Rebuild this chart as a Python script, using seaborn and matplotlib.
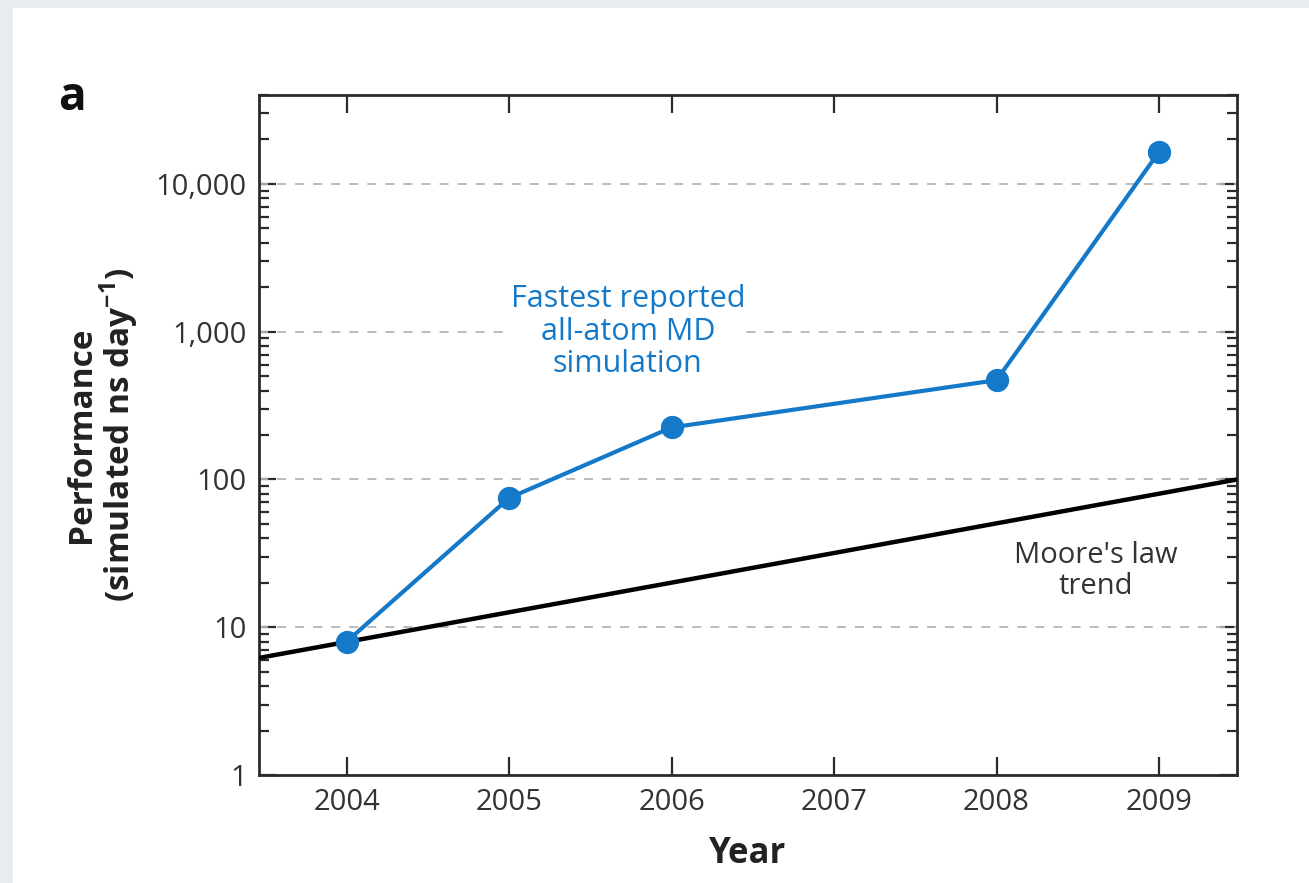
import matplotlib
matplotlib.use('Agg')
import matplotlib.pyplot as plt
import matplotlib.patches as mpatches
import matplotlib.ticker as mticker
import numpy as np
import pandas as pd
import seaborn as sns

# Data
years = [2004, 2005, 2006, 2008, 2009]
fastest_md = [8.0, 75, 225, 470, 16500]      # simulated ns/day
moore_years = [2003.46, 2009.48]
moore_trend = [6.2, 100]

y_ticks = [1, 10, 100, 1000, 10000]
y_tick_labels = ['1', '10', '100', '1,000', '10,000']
x_ticks = [2004, 2005, 2006, 2007, 2008, 2009]

BLUE = '#1479c9'
DARK = '#2b2b2b'

sns.set_style('ticks')
plt.rcParams['font.family'] = ['Open Sans', 'DejaVu Sans']
plt.rcParams['mathtext.fontset'] = 'custom'
plt.rcParams['mathtext.bf'] = 'Open Sans:bold'
plt.rcParams['mathtext.rm'] = 'Open Sans'

fig = plt.figure(figsize=(13.09, 8.83), dpi=100)
fig.patch.set_facecolor('#e8ebef')
# white slide panel (behind the axes)
fig.patches.append(mpatches.Rectangle((13 / 1309, 0), 1, 1 - 8 / 883, transform=fig.transFigure,
                                      facecolor='white', edgecolor='none', zorder=-5))

ax = fig.add_axes([259 / 1309, 1 - 775 / 883, (1237 - 259) / 1309, (775 - 95) / 883])
ax.set_facecolor('white')

df_md = pd.DataFrame({'year': years, 'perf': fastest_md})
df_moore = pd.DataFrame({'year': moore_years, 'perf': moore_trend})

sns.lineplot(data=df_moore, x='year', y='perf', color='black', linewidth=3.2, ax=ax, zorder=3)
sns.lineplot(data=df_md, x='year', y='perf', color=BLUE, linewidth=3.0, marker='o',
             markersize=16, markeredgecolor=BLUE, ax=ax, zorder=4)

ax.set_yscale('log')
ax.set_ylim(1, 40000)
ax.set_xlim(2003.46, 2009.48)

ax.set_yticks(y_ticks)
ax.set_yticklabels(y_tick_labels)
ax.yaxis.set_minor_locator(mticker.LogLocator(base=10, subs=np.arange(2, 10)))
ax.yaxis.set_minor_formatter(mticker.NullFormatter())
ax.set_xticks(x_ticks)
ax.set_xticklabels([str(x) for x in x_ticks])

# dashed decade gridlines
for v in y_ticks[1:]:
    ax.axhline(v, color='#b5b5b5', linestyle=(0, (5, 5)), linewidth=1.3, zorder=1)

ax.tick_params(axis='both', which='both', direction='in', colors=DARK,
               top=True, right=True, labelsize=21, width=1.6)
ax.tick_params(axis='y', which='major', length=12, pad=9)
ax.tick_params(axis='y', which='minor', length=7)
ax.tick_params(axis='x', which='major', length=13, pad=9)
ax.tick_params(axis='x', which='minor', bottom=False, top=False)
for lab in ax.get_xticklabels() + ax.get_yticklabels():
    lab.set_color('#333333')

for s in ax.spines.values():
    s.set_color(DARK)
    s.set_linewidth(2)
    s.set_visible(True)

ax.set_xlabel('Year', fontsize=25, fontweight='bold', color='#222222', labelpad=14)
ax.set_ylabel('Performance\n(simulated ns day$^{\\mathbf{-1}}$)', fontsize=24,
              fontweight='bold', color='#222222', linespacing=1.0, labelpad=10)

ax.text(2005.73, 1000, 'Fastest reported\nall-atom MD\nsimulation', color=BLUE,
        fontsize=22, ha='center', va='center', linespacing=1.12, zorder=5,
        bbox=dict(facecolor='white', edgecolor='none', pad=0))
ax.text(2008.61, 24, "Moore's law\ntrend", color='#333333', fontsize=21,
        ha='center', va='center', linespacing=1.1, zorder=5)

fig.text(72 / 1309, 1 - 98 / 883, 'a', fontsize=33, fontweight='bold', color='#111111',
         ha='center', va='center')

fig.savefig('out.png', dpi=100, facecolor=fig.get_facecolor())
